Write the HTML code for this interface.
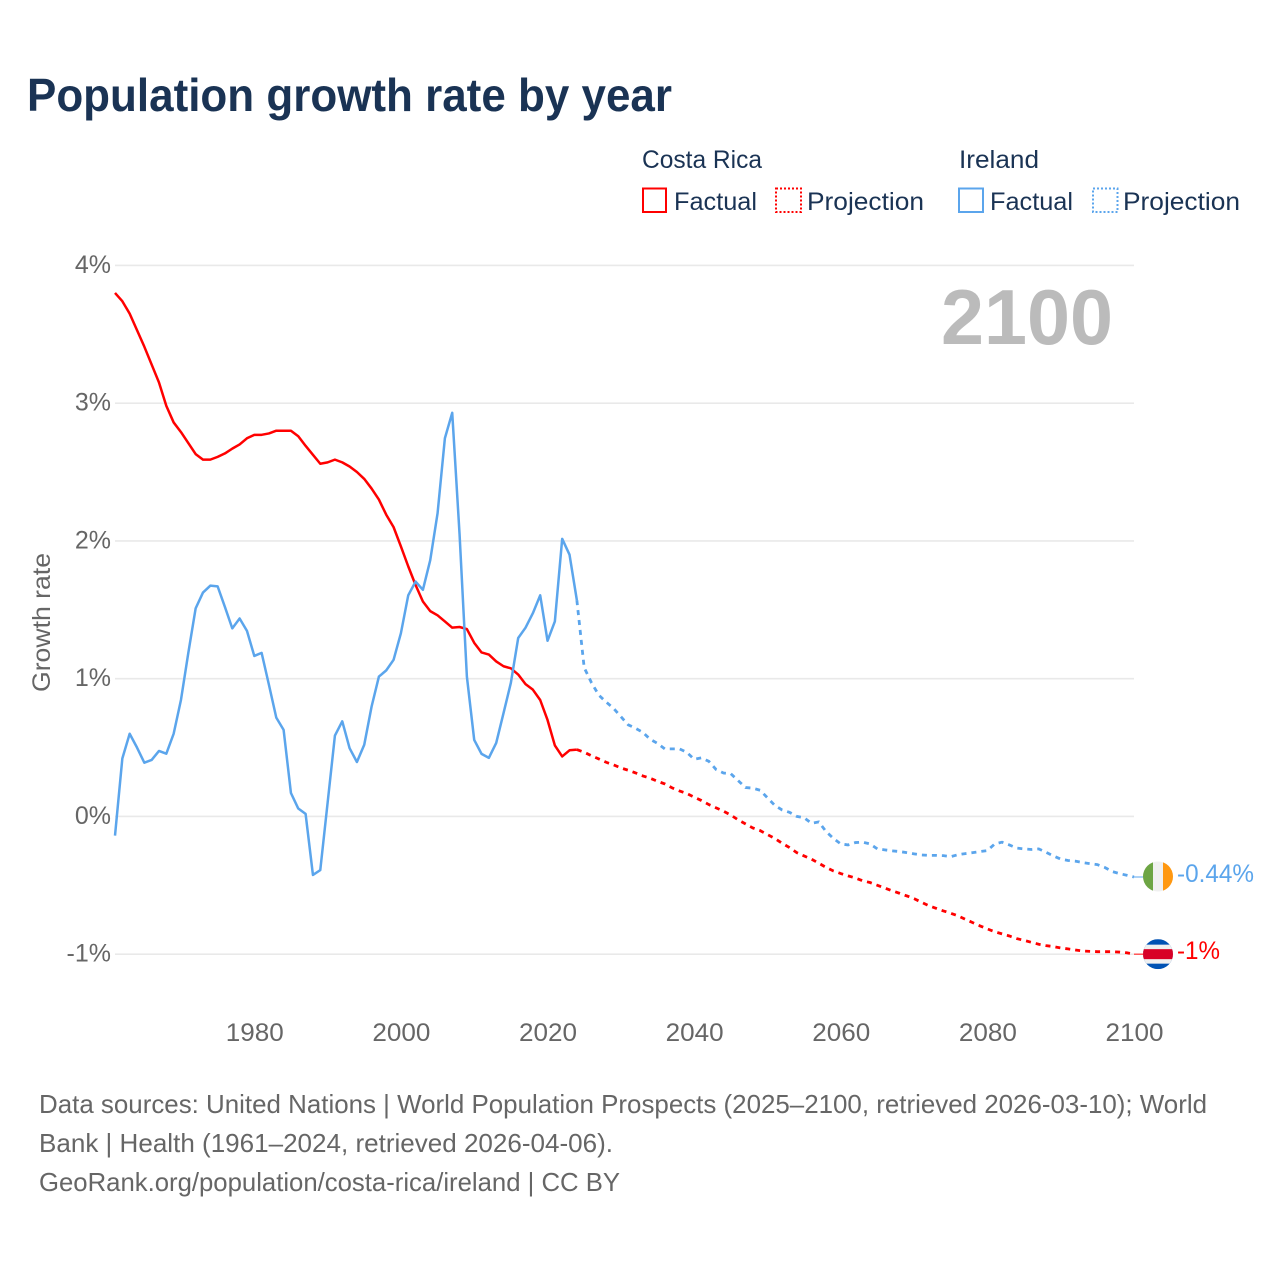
<!DOCTYPE html>
<html lang="en">
<head>
<meta charset="utf-8">
<title>Population growth rate by year</title>
<style>
html,body{margin:0;padding:0;background:#fff}
svg{display:block}
text{font-family:"Liberation Sans",sans-serif}
</style>
</head>
<body>
<svg id="chart" xmlns="http://www.w3.org/2000/svg" width="1280" height="1280" viewBox="0 0 1280 1280">
  <rect x="0" y="0" width="1280" height="1280" fill="#ffffff"/>
  <text x="27" y="111" font-size="46" font-weight="700" fill="#1a3354" textLength="645" lengthAdjust="spacingAndGlyphs">Population growth rate by year</text>

  <g font-size="25" fill="#1a3354">
    <text x="642" y="168" textLength="120" lengthAdjust="spacingAndGlyphs">Costa Rica</text>
    <rect x="643" y="188.5" width="23" height="23.5" fill="none" stroke="#ff0000" stroke-width="2"/>
    <text x="674" y="210" textLength="83" lengthAdjust="spacingAndGlyphs">Factual</text>
    <rect x="776" y="188.5" width="25" height="23.5" fill="none" stroke="#ff0000" stroke-width="2" stroke-dasharray="2 2"/>
    <text x="807" y="210" textLength="117" lengthAdjust="spacingAndGlyphs">Projection</text>
    <text x="959" y="168" textLength="80" lengthAdjust="spacingAndGlyphs">Ireland</text>
    <rect x="959" y="188.5" width="24" height="23.5" fill="none" stroke="#5ba5ec" stroke-width="2"/>
    <text x="990" y="210" textLength="83" lengthAdjust="spacingAndGlyphs">Factual</text>
    <rect x="1093" y="188.5" width="24.5" height="23.5" fill="none" stroke="#5ba5ec" stroke-width="2" stroke-dasharray="2 2"/>
    <text x="1123" y="210" textLength="117" lengthAdjust="spacingAndGlyphs">Projection</text>
  </g>

  <g id="grid"></g>
  <g id="yticks" font-size="25" fill="#666666" text-anchor="end"></g>
  <g id="xticks" font-size="25" fill="#666666" text-anchor="middle"></g>
  <text transform="translate(50,622.5) rotate(-90)" font-size="25" fill="#666666" text-anchor="middle" textLength="139" lengthAdjust="spacingAndGlyphs">Growth rate</text>
  <text x="941" y="344" font-size="78" font-weight="700" fill="#bbbbbb" textLength="172" lengthAdjust="spacingAndGlyphs">2100</text>

  <g id="series"></g>

  <g id="flag-ireland">
    <clipPath id="clip-ie"><circle cx="0" cy="0" r="15"/></clipPath>
    <g clip-path="url(#clip-ie)">
      <rect x="-15" y="-15" width="30" height="30" fill="#f0f0f0"/>
      <rect x="-15" y="-15" width="10" height="30" fill="#6da544"/>
      <rect x="5" y="-15" width="10" height="30" fill="#ff9811"/>
    </g>
  </g>
  <g id="flag-costa-rica">
    <clipPath id="clip-cr"><circle cx="0" cy="0" r="15"/></clipPath>
    <g clip-path="url(#clip-cr)">
      <rect x="-15" y="-15" width="30" height="30" fill="#0052b4"/>
      <rect x="-15" y="-9.5" width="30" height="19" fill="#f0f0f0"/>
      <rect x="-15" y="-5" width="30" height="10" fill="#d80027"/>
    </g>
  </g>
  <text id="end-label-ireland" x="1177" font-size="25" fill="#5ba5ec" textLength="77" lengthAdjust="spacingAndGlyphs"></text>
  <text id="end-label-costa-rica" x="1177" font-size="25" fill="#ff0000" textLength="43" lengthAdjust="spacingAndGlyphs"></text>

  <g font-size="26" fill="#666666">
    <text x="39" y="1113" textLength="1168" lengthAdjust="spacingAndGlyphs">Data sources: United Nations | World Population Prospects (2025–2100, retrieved 2026-03-10); World</text>
    <text x="39" y="1152" textLength="574" lengthAdjust="spacingAndGlyphs">Bank | Health (1961–2024, retrieved 2026-04-06).</text>
    <text x="39" y="1191" textLength="581" lengthAdjust="spacingAndGlyphs">GeoRank.org/population/costa-rica/ireland | CC BY</text>
  </g>
</svg>
<script>
const yTickValues = [4, 3, 2, 1, 0, -1];
const yTickLabels = ["4%", "3%", "2%", "1%", "0%", "-1%"];
const xTickValues = [1980, 2000, 2020, 2040, 2060, 2080, 2100];
const xTickLabels = ["1980", "2000", "2020", "2040", "2060", "2080", "2100"];
const endLabels = ["-1%", "-0.44%"];
const factualStartYear = 1961;
const projectionStartYear = 2024;
const costaRicaFactual = [
  3.80,3.74,3.65,3.53,3.41,3.28,3.15,2.98,2.86,2.79,
  2.71,2.63,2.59,2.59,2.61,2.635,2.67,2.70,2.745,2.77,
  2.77,2.78,2.80,2.80,2.80,2.76,2.69,2.625,2.56,2.57,
  2.59,2.57,2.54,2.50,2.45,2.38,2.30,2.19,2.10,1.96,
  1.815,1.68,1.56,1.49,1.46,1.415,1.37,1.375,1.36,1.26,
  1.19,1.175,1.125,1.09,1.075,1.03,0.96,0.92,0.845,0.70,
  0.515,0.435,0.48,0.485
];
const irelandFactual = [
  -0.14,0.42,0.60,0.50,0.39,0.41,0.475,0.455,0.60,0.846,
  1.187,1.51,1.625,1.675,1.67,1.52,1.365,1.437,1.347,1.165,
  1.187,0.955,0.717,0.628,0.17,0.057,0.018,-0.425,-0.39,0.098,
  0.587,0.69,0.495,0.395,0.52,0.797,1.015,1.06,1.137,1.33,
  1.605,1.705,1.645,1.86,2.20,2.745,2.93,2.05,1.015,0.555,
  0.454,0.425,0.533,0.75,0.97,1.295,1.37,1.475,1.605,1.275,
  1.415,2.015,1.90,1.57
];
const costaRicaProjection = [
  0.485,0.466,0.44,0.417,0.393,0.374,0.352,0.335,0.316,0.294,
  0.277,0.255,0.236,0.207,0.185,0.166,0.14,0.115,0.086,0.062,
  0.038,0.01,-0.025,-0.054,-0.084,-0.103,-0.132,-0.16,-0.195,-0.226,
  -0.263,-0.287,-0.31,-0.34,-0.37,-0.396,-0.415,-0.432,-0.447,-0.468,
  -0.48,-0.50,-0.52,-0.54,-0.558,-0.577,-0.597,-0.623,-0.648,-0.667,
  -0.686,-0.703,-0.722,-0.747,-0.771,-0.795,-0.817,-0.837,-0.853,-0.868,
  -0.887,-0.90,-0.914,-0.928,-0.938,-0.945,-0.955,-0.962,-0.97,-0.977,
  -0.98,-0.982,-0.982,-0.982,-0.985,-0.99,-1.0
];
const irelandProjection = [
  1.57,1.08,0.97,0.88,0.83,0.785,0.725,0.665,0.64,0.61,
  0.56,0.53,0.49,0.49,0.49,0.465,0.415,0.425,0.40,0.34,
  0.315,0.31,0.26,0.21,0.205,0.19,0.135,0.08,0.047,0.03,
  0.0,-0.01,-0.05,-0.04,-0.11,-0.16,-0.20,-0.207,-0.19,-0.187,
  -0.20,-0.236,-0.243,-0.25,-0.255,-0.263,-0.272,-0.28,-0.283,-0.283,
  -0.285,-0.292,-0.278,-0.27,-0.263,-0.255,-0.248,-0.20,-0.187,-0.207,
  -0.23,-0.236,-0.24,-0.236,-0.26,-0.287,-0.31,-0.32,-0.325,-0.335,
  -0.343,-0.35,-0.37,-0.40,-0.415,-0.427,-0.44
];

const SVG_NS = "http://www.w3.org/2000/svg";
function xScale(year) { return 115 + (year - 1961) * (1134 - 115) / (2100 - 1961); }
function yScale(value) { return 816.4 - value * 137.75; }
function linePath(startYear, values) {
  return values.map(function (v, i) {
    return (i ? "L" : "M") + xScale(startYear + i).toFixed(2) + " " + yScale(v).toFixed(2);
  }).join(" ");
}

const gridGroup = document.getElementById("grid");
const yGroup = document.getElementById("yticks");
yTickValues.forEach(function (v, i) {
  const line = document.createElementNS(SVG_NS, "line");
  
  
  line.setAttribute("x1", xScale(1961));
  line.setAttribute("x2", xScale(2100));
  line.setAttribute("y1", yScale(v));
  line.setAttribute("y2", yScale(v));
  line.setAttribute("stroke", "#e9e9e9");
  line.setAttribute("stroke-width", "1.6");
  gridGroup.appendChild(line);
  const label = document.createElementNS(SVG_NS, "text");
  
  
  label.setAttribute("x", 111);
  label.setAttribute("y", yScale(v) + 7.5);
  label.textContent = yTickLabels[i];
  yGroup.appendChild(label);
});

const xGroup = document.getElementById("xticks");
xTickValues.forEach(function (year, i) {
  const label = document.createElementNS(SVG_NS, "text");
  
  
  label.setAttribute("x", xScale(year) + 0.5);
  label.setAttribute("y", 1041);
  label.setAttribute("textLength", "58");
  label.setAttribute("lengthAdjust", "spacingAndGlyphs");
  label.textContent = xTickLabels[i];
  xGroup.appendChild(label);
});

const seriesGroup = document.getElementById("series");

const crFactualPath = document.createElementNS(SVG_NS, "path");


crFactualPath.setAttribute("d", linePath(factualStartYear, costaRicaFactual));
crFactualPath.setAttribute("fill", "none");
crFactualPath.setAttribute("stroke", "#ff0000");
crFactualPath.setAttribute("stroke-width", "2.5");
crFactualPath.setAttribute("stroke-linejoin", "round");
seriesGroup.appendChild(crFactualPath);

const crProjectionPath = document.createElementNS(SVG_NS, "path");


crProjectionPath.setAttribute("d", linePath(projectionStartYear, costaRicaProjection));
crProjectionPath.setAttribute("fill", "none");
crProjectionPath.setAttribute("stroke", "#ff0000");
crProjectionPath.setAttribute("stroke-width", "2.8");
crProjectionPath.setAttribute("stroke-dasharray", "5 5");
seriesGroup.appendChild(crProjectionPath);

const ieFactualPath = document.createElementNS(SVG_NS, "path");


ieFactualPath.setAttribute("d", linePath(factualStartYear, irelandFactual));
ieFactualPath.setAttribute("fill", "none");
ieFactualPath.setAttribute("stroke", "#5ba5ec");
ieFactualPath.setAttribute("stroke-width", "2.5");
ieFactualPath.setAttribute("stroke-linejoin", "round");
seriesGroup.appendChild(ieFactualPath);

const ieProjectionPath = document.createElementNS(SVG_NS, "path");


ieProjectionPath.setAttribute("d", linePath(projectionStartYear, irelandProjection));
ieProjectionPath.setAttribute("fill", "none");
ieProjectionPath.setAttribute("stroke", "#5ba5ec");
ieProjectionPath.setAttribute("stroke-width", "2.8");
ieProjectionPath.setAttribute("stroke-dasharray", "5 5");
seriesGroup.appendChild(ieProjectionPath);

const lastIreland = yScale(irelandProjection[irelandProjection.length - 1]);
const lastCostaRica = yScale(costaRicaProjection[costaRicaProjection.length - 1]);

const ieConnector = document.createElementNS(SVG_NS, "line");


ieConnector.setAttribute("x1", xScale(2100));
ieConnector.setAttribute("x2", 1144);
ieConnector.setAttribute("y1", lastIreland);
ieConnector.setAttribute("y2", lastIreland);
ieConnector.setAttribute("stroke", "#5ba5ec");
ieConnector.setAttribute("stroke-width", "1");
seriesGroup.appendChild(ieConnector);

const crConnector = document.createElementNS(SVG_NS, "line");


crConnector.setAttribute("x1", xScale(2100));
crConnector.setAttribute("x2", 1144);
crConnector.setAttribute("y1", lastCostaRica);
crConnector.setAttribute("y2", lastCostaRica);
crConnector.setAttribute("stroke", "#ff0000");
crConnector.setAttribute("stroke-width", "1");
seriesGroup.appendChild(crConnector);

document.getElementById("flag-ireland").setAttribute("transform", "translate(1158," + (lastIreland - 0.5) + ")");
document.getElementById("flag-costa-rica").setAttribute("transform", "translate(1158," + lastCostaRica + ")");
const ieLabel = document.getElementById("end-label-ireland");
ieLabel.setAttribute("y", lastIreland + 5);
ieLabel.textContent = endLabels[1];
const crLabel = document.getElementById("end-label-costa-rica");
crLabel.setAttribute("y", lastCostaRica + 5);
crLabel.textContent = endLabels[0];
</script>
</body>
</html>
